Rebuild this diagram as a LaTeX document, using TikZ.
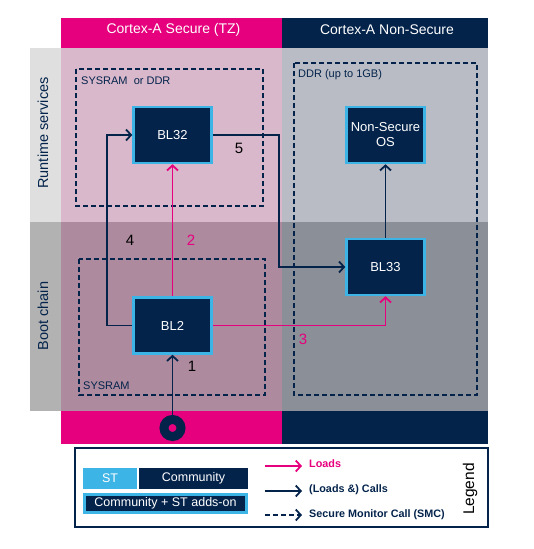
\documentclass[tikz,border=0pt]{standalone}
\usepackage{fontspec}
\setmainfont{Liberation Sans}
\usetikzlibrary{arrows.meta,positioning}
\definecolor{stpink}{HTML}{E6007E}
\definecolor{stnavy}{HTML}{03234B}
\definecolor{stblue}{HTML}{3CB4E6}
\definecolor{secrun}{HTML}{D9B8CB}
\definecolor{secboot}{HTML}{AD8A9E}
\definecolor{nsrun}{HTML}{B9BCC4}
\definecolor{nsboot}{HTML}{8B8F97}
\tikzset{
  blbox/.style={draw=stblue, line width=2.5pt, fill=stnavy, text=white, align=center,
    minimum width=78pt, minimum height=56pt, inner sep=0pt, font=\fontsize{13}{15}\selectfont},
  memzone/.style={draw=stnavy, line width=1.5pt, dash pattern=on 5pt off 3pt},
  zonelbl/.style={anchor=west, text=stnavy, inner sep=0pt, font=\fontsize{11}{12}\selectfont},
  calls/.style={draw=stnavy, line width=1.8pt, -{Straight Barb[length=5pt,width=11pt]}},
  loads/.style={calls, draw=stpink},
  smc/.style={calls, dash pattern=on 5pt off 3pt},
  steplbl/.style={font=\fontsize{15}{17}\selectfont},
  rowlbl/.style={rotate=90, text=stnavy, font=\fontsize{14.5}{16}\selectfont},
  headlbl/.style={text=white, font=\fontsize{14}{16}\selectfont},
  legtxt/.style={anchor=west, inner sep=0pt, text=stnavy, font=\bfseries\fontsize{10.8}{12}\selectfont},
}
\begin{document}
\begin{tikzpicture}[x=1pt, y=-1pt]
\useasboundingbox (0,0) rectangle (534,549);
% background areas
\fill[stpink] (61,18) rectangle (282,48);
\fill[stnavy] (282,18) rectangle (488,48);
\fill[gray!25] (30,48) rectangle (61,222);
\fill[gray!60] (30,222) rectangle (61,411);
\fill[secrun] (61,48) rectangle (282,222);
\fill[secboot] (61,222) rectangle (282,411);
\fill[nsrun] (282,48) rectangle (488,222);
\fill[nsboot] (282,222) rectangle (488,411);
\fill[stpink] (61,411) rectangle (282,444);
\fill[stnavy] (282,411) rectangle (488,444);

\node[headlbl] (hsec) at (173.5,30) {Cortex-A Secure (TZ)};
\node[headlbl] (hns) at (387,30) {Cortex-A Non-Secure};
\node[rowlbl] (rrun) at (43,133) {Runtime services};
\node[rowlbl] (rboot) at (43,316) {Boot chain};

% memory zones
\draw[memzone] (76,69) rectangle (263,206);
\node[zonelbl] (zsec) at (81,81) {SYSRAM\ \ or DDR};
\draw[memzone] (294,63) rectangle (477,395);
\node[zonelbl] (zns) at (298,75) {DDR (up to 1GB)};
\draw[memzone] (79,259) rectangle (265,395);
\node[zonelbl] (zsys) at (83,386) {SYSRAM};

% images
\node[blbox] (bl32) at (172.5,135) {BL32};
\node[blbox] (nsos) at (385.5,135) {Non-Secure\\OS};
\node[blbox] (bl33) at (385.5,267) {BL33};
\node[blbox] (bl2) at (172.5,325.5) {BL2};
\node[circle, draw=stnavy, line width=9pt, minimum size=17pt, inner sep=0pt] (boot) at (172.5,428) {};

% boot flow
\draw[calls] (boot.north) -- (bl2.south);
\draw[loads] (bl2.north) -- (bl32.south);
\draw[loads] (bl2.east) -| (bl33.south);
\draw[calls] (bl2.west) -- (107,325.5) |- (bl32.west);
\draw[calls] (bl32.east) -- (279,135) |- (bl33.west);
\draw[calls] (bl33.north) -- (nsos.south);

\node[steplbl] (s1) at (192,366) {1};
\node[steplbl, text=stpink] (s2) at (191,240) {2};
\node[steplbl, text=stpink] (s3) at (303,339) {3};
\node[steplbl] (s4) at (130,240) {4};
\node[steplbl] (s5) at (239,148) {5};

% legend
\draw[stnavy, line width=2.2pt] (75,448) rectangle (488,527);
\node[fill=stblue, text=white, minimum width=54pt, minimum height=21pt, inner sep=0pt,
  font=\fontsize{12.5}{14}\selectfont] (lst) at (110,478.5) {ST};
\node[fill=stnavy, text=white, minimum width=109pt, minimum height=21pt, inner sep=0pt,
  font=\fontsize{12.5}{14}\selectfont] (lcom) at (193.5,478.5) {Community};
\node[fill=stnavy, draw=stblue, line width=2.5pt, text=white, minimum width=162pt, minimum height=18pt,
  inner sep=0pt, font=\fontsize{12.5}{14}\selectfont] (ladd) at (165.5,503.5) {Community + ST adds-on};
\coordinate (la1) at (265,466);
\coordinate (lb1) at (302,466);
\coordinate (la2) at (265,491);
\coordinate (lb2) at (302,491);
\coordinate (la3) at (265,515);
\coordinate (lb3) at (302,515);
\draw[loads] (la1) -- (lb1);
\draw[calls] (la2) -- (lb2);
\draw[smc] (la3) -- (lb3);
\node[legtxt, text=stpink] (tl1) at (309,464) {Loads};
\node[legtxt] (tl2) at (309,490) {(Loads \&) Calls};
\node[legtxt] (tl3) at (309,515) {Secure Monitor Call (SMC)};
\node[rotate=90, font=\fontsize{15.5}{17}\selectfont] (tleg) at (470,489) {Legend};
\end{tikzpicture}
\end{document}
